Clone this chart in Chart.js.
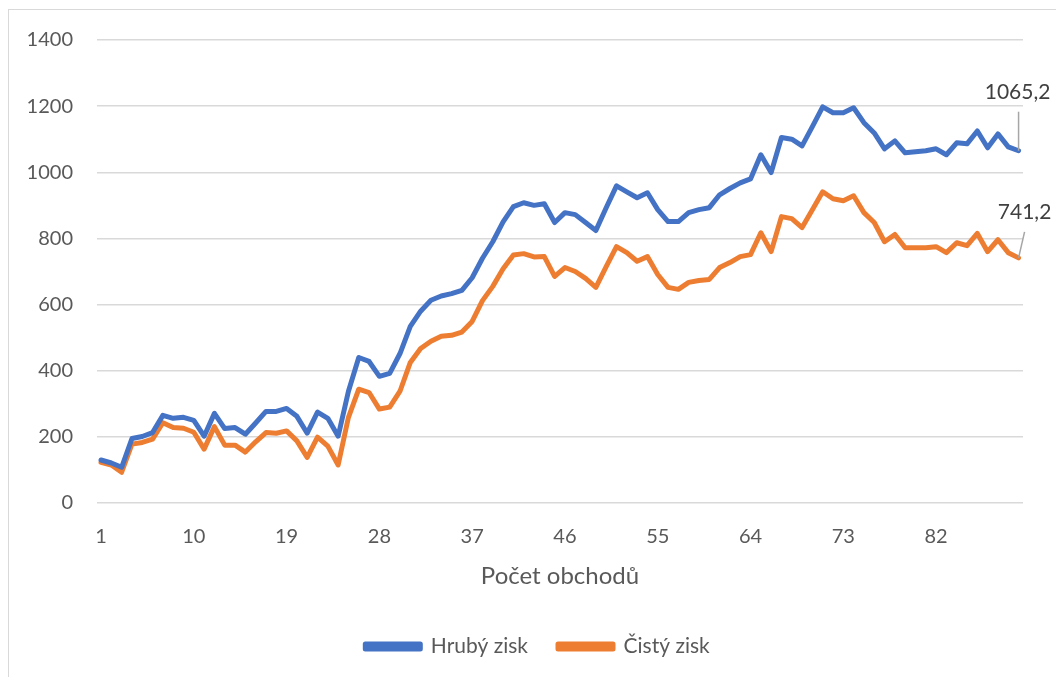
<!DOCTYPE html>
<html>
<head>
<meta charset="utf-8">
<script src="https://cdn.jsdelivr.net/npm/chart.js@4.4.0/dist/chart.umd.min.js"></script>
<style>
    html, body { margin: 0; padding: 0; background: #fff; overflow: hidden; }
    #frame { position: absolute; left: 8px; top: 9px; width: 1200px; height: 800px; border: 1.5px solid #d9d9d9; }
    #wrap { position: absolute; left: 0; top: 0; width: 1056px; height: 677px; }
</style>
</head>
<body>
<div id="frame"></div>
<div id="wrap"><canvas id="profitChart" width="1056" height="677"></canvas></div>
<script>
// Počet obchodů (osa X)
const trades = [1, 2, 3, 4, 5, 6, 7, 8, 9, 10, 11, 12, 13, 14, 15, 16, 17, 18, 19, 20,
    21, 22, 23, 24, 25, 26, 27, 28, 29, 30, 31, 32, 33, 34, 35, 36, 37, 38, 39, 40,
    41, 42, 43, 44, 45, 46, 47, 48, 49, 50, 51, 52, 53, 54, 55, 56, 57, 58, 59, 60,
    61, 62, 63, 64, 65, 66, 67, 68, 69, 70, 71, 72, 73, 74, 75, 76, 77, 78, 79, 80,
    81, 82, 83, 84, 85, 86, 87, 88, 89, 90];

// Hrubý zisk
const grossProfit = [130, 121, 108, 195, 201, 213, 265, 256, 259, 250,
    202, 271, 225, 228, 208, 242, 277, 277, 286, 262,
    211, 275, 256, 202, 338, 440, 428, 383, 392, 452,
    534, 580, 613, 626, 633, 643, 681, 740, 790, 850,
    896, 908, 900, 905, 848, 878, 872, 848, 824, 893,
    959, 941, 923, 938, 887, 851, 851, 878, 887, 893,
    932, 951, 968, 980, 1053, 999, 1105, 1100, 1080, 1138,
    1198, 1180, 1180, 1195, 1150, 1119, 1071, 1095, 1059, 1062,
    1065, 1071, 1053, 1089, 1086, 1125, 1074, 1116, 1077, 1065.2];

// Čistý zisk
const netProfit = [123, 115, 93, 178, 183, 193, 243, 228, 226, 214,
    163, 231, 175, 175, 154, 185, 213, 211, 218, 188,
    138, 199, 172, 115, 259, 344, 334, 284, 290, 338,
    425, 467, 489, 504, 507, 517, 549, 612, 655, 708,
    750, 754, 744, 745, 685, 712, 700, 679, 652, 715,
    775, 757, 731, 745, 691, 652, 646, 667, 673, 676,
    712, 727, 745, 751, 817, 760, 866, 860, 833, 887,
    941, 920, 914, 929, 878, 848, 790, 812, 772, 772,
    772, 775, 757, 787, 778, 815, 760, 796, 757, 741.2];

// Popisky osy X
const xTickLabels = [1, 10, 19, 28, 37, 46, 55, 64, 73, 82];

const textColor = '#595959';
const fontFamily = 'Lato, "Open Sans", sans-serif';

// Popisek poslední hodnoty s vodicí čarou
const lastValueLabels = {
    id: 'lastValueLabels',
    afterLayout(chart) {
        // legenda je v Excelu trochu víc vpravo
        chart.legend.left += 26;
        chart.legend.right += 26;
    },
    afterDatasetsDraw(chart) {
        const ctx = chart.ctx;
        const offsets = [
            { tx: -1, ty: -58, lx: 0, ly: -39 },
            { tx: 6, ty: -46, lx: 6, ly: -26 }
        ];
        chart.data.datasets.forEach((ds, i) => {
            const meta = chart.getDatasetMeta(i);
            const pt = meta.data[meta.data.length - 1];
            const val = ds.data[ds.data.length - 1].y;
            const o = offsets[i];
            ctx.save();
            ctx.strokeStyle = '#a6a6a6';
            ctx.lineWidth = 1.5;
            ctx.beginPath();
            ctx.moveTo(pt.x + o.lx, pt.y + o.ly);
            ctx.lineTo(pt.x, pt.y);
            ctx.stroke();
            ctx.fillStyle = '#404040';
            ctx.font = '21px ' + fontFamily;
            ctx.textAlign = 'center';
            ctx.textBaseline = 'middle';
            ctx.fillText(String(val).replace('.', ','), pt.x + o.tx, pt.y + o.ty);
            ctx.restore();
        });
    }
};

const ctx = document.getElementById('profitChart').getContext('2d');

const profitChart = new Chart(ctx, {
    type: 'line',
    data: {
        datasets: [
            {
                label: 'Hrubý zisk',
                data: trades.map((t, i) => ({ x: t, y: grossProfit[i] })),
                borderColor: '#4472C4',
                backgroundColor: '#4472C4',
                borderWidth: 5,
                pointRadius: 0,
                tension: 0,
                borderJoinStyle: 'round',
                borderCapStyle: 'round'
            },
            {
                label: 'Čistý zisk',
                data: trades.map((t, i) => ({ x: t, y: netProfit[i] })),
                borderColor: '#ED7D31',
                backgroundColor: '#ED7D31',
                borderWidth: 5,
                pointRadius: 0,
                tension: 0,
                borderJoinStyle: 'round',
                borderCapStyle: 'round'
            }
        ]
    },
    options: {
        responsive: false,
        animation: false,
        layout: {
            padding: { left: 0, right: 33, top: 40, bottom: 10 }
        },
        plugins: {
            legend: {
                position: 'bottom',
                labels: {
                    color: textColor,
                    font: { family: fontFamily, size: 21 },
                    boxWidth: 55,
                    boxHeight: 5,
                    padding: 30
                }
            },
            tooltip: { enabled: false }
        },
        scales: {
            x: {
                type: 'linear',
                min: 0.61,
                max: 90.43,
                afterBuildTicks: (scale) => {
                    scale.ticks = xTickLabels.map(v => ({ value: v }));
                },
                afterFit: (scale) => {
                    scale.height = 103;
                },
                grid: { display: false },
                border: { display: false },
                ticks: {
                    color: textColor,
                    font: { family: fontFamily, size: 20 },
                    padding: 14,
                    maxRotation: 0,
                    autoSkip: false,
                    callback: (v) => String(v)
                },
                title: {
                    display: true,
                    text: 'Počet obchodů',
                    color: textColor,
                    font: { family: fontFamily, size: 24 },
                    padding: { top: 0, bottom: 15 }
                }
            },
            y: {
                min: 0,
                max: 1400,
                afterFit: (scale) => {
                    scale.width = 97;
                },
                grid: {
                    color: '#d9d9d9',
                    lineWidth: 1.5,
                    drawTicks: false
                },
                border: { display: false },
                ticks: {
                    stepSize: 200,
                    color: textColor,
                    font: { family: fontFamily, size: 20 },
                    padding: 24,
                    callback: (v) => String(v)
                }
            }
        }
    },
    plugins: [lastValueLabels]
});
</script>
</body>
</html>
